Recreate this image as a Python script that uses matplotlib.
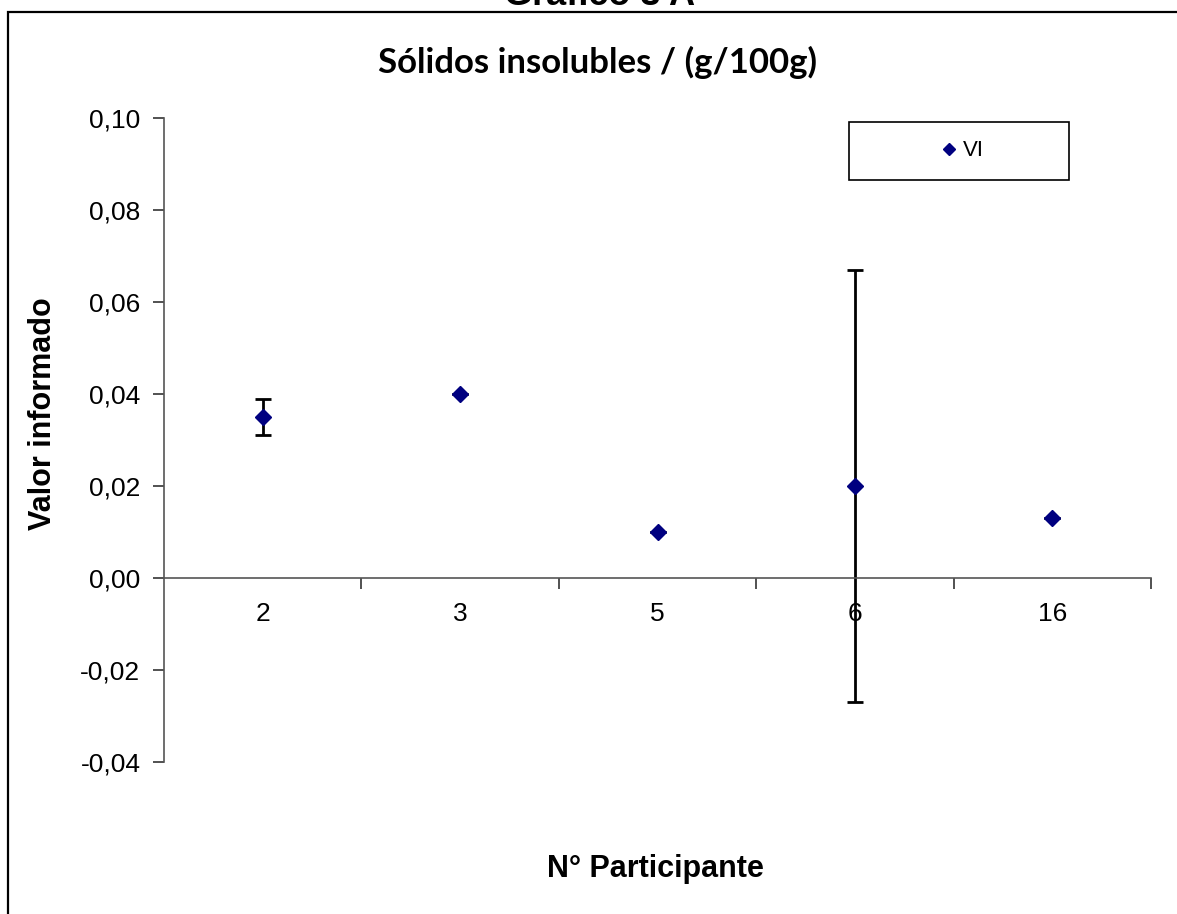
import matplotlib
matplotlib.use("Agg")
import matplotlib.pyplot as plt
from matplotlib.patches import Rectangle
from matplotlib.lines import Line2D

participants = ["2", "3", "5", "6", "16"]
values = [0.035, 0.040, 0.010, 0.020, 0.013]
errors = [0.004, 0.0, 0.0, 0.047, 0.0]
yticks = [-0.04, -0.02, 0.00, 0.02, 0.04, 0.06, 0.08, 0.10]

W, H = 1177, 914
fig = plt.figure(figsize=(W / 100, H / 100), dpi=100)

def fx(px):
    return px / W

def fy(py):
    return 1 - py / H

# outer frame
fig.patches.append(Rectangle((fx(8), fy(930)), fx(1200) - fx(8), fy(12) - fy(930),
                             transform=fig.transFigure, fill=False,
                             edgecolor="black", linewidth=1.6))

fig.text(fx(600), fy(5), "Gráfico 3 A", ha="center", va="baseline",
         fontsize=26, fontweight="bold", family="Liberation Sans")

ax = fig.add_axes([fx(164), fy(762), fx(1151) - fx(164), fy(118) - fy(762)])
x = [i + 0.5 for i in range(len(participants))]

ax.errorbar(x, values, yerr=errors, fmt="none", ecolor="black",
            elinewidth=2, capsize=6, capthick=2, zorder=2)
ax.plot(x, values, linestyle="none", marker="D", markersize=8.5,
        color="#000080", zorder=3)

ax.set_xlim(0, len(participants))
ax.set_ylim(-0.04, 0.10)
ax.set_yticks(yticks)
ax.set_yticklabels([f"{v:.2f}".replace(".", ",") for v in yticks],
                   family="Liberation Sans", fontsize=19)

for s in ["top", "right"]:
    ax.spines[s].set_visible(False)
ax.spines["bottom"].set_position(("data", 0))
ax.spines["bottom"].set_color("#555555")
ax.spines["left"].set_color("#555555")
ax.spines["bottom"].set_linewidth(1.2)
ax.spines["left"].set_linewidth(1.2)

ax.set_xticks(list(range(1, len(participants) + 1)))
ax.set_xticklabels([])
ax.tick_params(axis="x", which="major", direction="out", length=8,
               color="#333333", width=1.2)
ax.set_xticks(x, minor=True)
ax.set_xticklabels(participants, minor=True, family="Liberation Sans", fontsize=19)
ax.tick_params(axis="x", which="minor", length=0, pad=17)
ax.tick_params(axis="y", direction="out", length=8, color="#333333",
               width=1.2, pad=9)

fig.text(fx(597), fy(62), "Sólidos insolubles / (g/100g)", ha="center",
         va="center", fontsize=25, fontweight="bold", family="Lato")
fig.text(fx(43), fy(414), "Valor informado", ha="center", va="center",
         rotation=90, fontsize=22, fontweight="bold", family="Liberation Sans")
fig.text(fx(655), fy(869), "N° Participante", ha="center", va="center",
         fontsize=22, fontweight="bold", family="Liberation Sans")

# legend box
fig.patches.append(Rectangle((fx(849), fy(180)), fx(1069) - fx(849), fy(122) - fy(180),
                             transform=fig.transFigure, fill=False,
                             edgecolor="black", linewidth=1.2))
handle = Line2D([], [], linestyle="none", marker="D", markersize=6, color="#000080")
fig.legend([handle], ["VI"], loc="center", bbox_to_anchor=(fx(962), fy(151)),
           frameon=False, prop={"family": "Liberation Sans", "size": 16},
           handlelength=0.8, handletextpad=0.2, borderpad=0)

fig.savefig("out.png", dpi=100)
